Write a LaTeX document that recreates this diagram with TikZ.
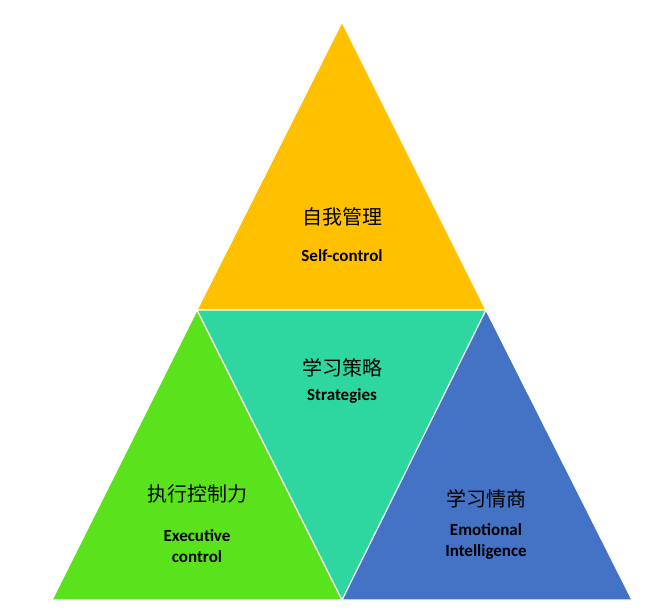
\documentclass[tikz,border=0pt]{standalone}
\usepackage{fontspec}
\setmainfont{Carlito}
\newfontfamily\cjk{Noto Sans CJK SC}
\definecolor{cY}{HTML}{FFC000}
\definecolor{cG}{HTML}{5AE31C}
\definecolor{cT}{HTML}{2ED6A0}
\definecolor{cB}{HTML}{4472C4}
\begin{document}
\begin{tikzpicture}[x=1pt,y=-1pt,
  tri/.style={draw=white,line width=1.2pt,line join=miter},
  zh/.style={font=\cjk\fontsize{20}{22}\selectfont},
  en/.style={font=\bfseries\fontsize{17}{21}\selectfont,align=center}]
\useasboundingbox (0,0) rectangle (662,612);
\coordinate (A) at (342,22);
\coordinate (B) at (197,310);
\coordinate (C) at (486,310);
\coordinate (D) at (52,600);
\coordinate (E) at (342,600);
\coordinate (F) at (632,600);
\fill[cY] (A)--(B)--(C)--cycle;
\fill[cG] (B)--(D)--(E)--cycle;
\fill[cT] (B)--(C)--(E)--cycle;
\fill[cB] (C)--(E)--(F)--cycle;
\draw[tri] (A)--(B)--(C)--cycle;
\draw[tri] (B)--(D)--(E)--cycle;
\draw[tri] (C)--(E)--(F)--cycle;
\node[zh] (t1) at (342,217) {自我管理};
\node[en] (e1) at (342,256) {Self-control};
\node[zh] (t2) at (342,368) {学习策略};
\node[en] (e2) at (342,396) {Strategies};
\node[zh] (t3) at (197,494) {执行控制力};
\node[en] (e3) at (197,546) {Executive\\control};
\node[zh] (t4) at (486,499) {学习情商};
\node[en] (e4) at (486,541) {Emotional\\Intelligence};
\end{tikzpicture}
\end{document}
